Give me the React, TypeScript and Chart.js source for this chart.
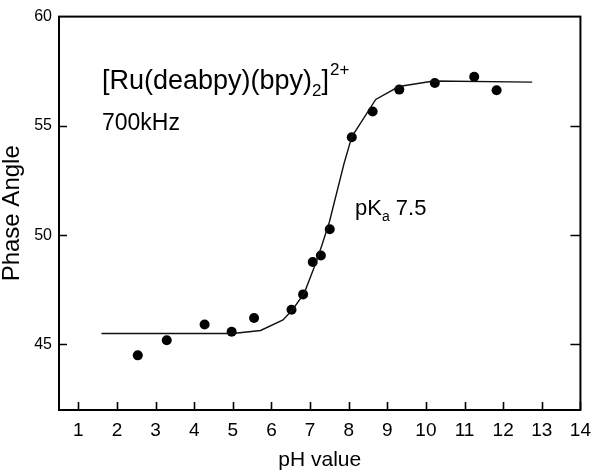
import React, { useEffect, useRef } from "react";
import { Chart, registerables } from "chart.js";

Chart.register(...registerables);

// Measured points (pH, phase angle)
const phValues = [2.54, 3.29, 4.27, 4.97, 5.55, 6.52, 6.82, 7.07, 7.28, 7.51, 8.08, 8.62, 9.31, 10.23, 11.25, 11.83];
const phaseAngles = [44.5, 45.19, 45.91, 45.58, 46.21, 46.59, 47.29, 48.77, 49.07, 50.27, 54.48, 55.66, 56.66, 56.96, 57.25, 56.63];

// Fitted curve
const fitPH = [1.6, 5.0, 5.72, 6.3, 6.55, 6.85, 7.1, 7.3, 7.5, 7.88, 8.08, 8.7, 9.3, 10.2, 12.75];
const fitAngle = [45.5, 45.5, 45.64, 46.12, 46.6, 47.35, 48.5, 49.5, 50.6, 53.28, 54.5, 56.21, 56.8, 57.05, 57.0];

const xTickValues = [1, 2, 3, 4, 5, 6, 7, 8, 9, 10, 11, 12, 13, 14];
const yTickValues = [45, 50, 55, 60];
const xMin = 0.5;
const xMax = 14;
const yMin = 42;
const yMax = 60;

const FONT = "'Liberation Sans', Arial, Helvetica, sans-serif";

const framePlugin = {
  id: "frameAndNotes",
  afterDraw(chart: any) {
    const { ctx, chartArea: a, scales } = chart;
    ctx.save();
    ctx.strokeStyle = "#000";
    ctx.lineWidth = 2;
    ctx.strokeRect(a.left, a.top, a.right - a.left, a.bottom - a.top);
    ctx.lineWidth = 1.6;
    ctx.beginPath();
    xTickValues.forEach((v) => {
      const px = Math.round(scales.x.getPixelForValue(v)) + 0.5;
      ctx.moveTo(px, a.bottom);
      ctx.lineTo(px, a.bottom - 8);
    });
    yTickValues.forEach((v) => {
      if (v >= yMax) return;
      const py = Math.round(scales.y.getPixelForValue(v)) + 0.5;
      ctx.moveTo(a.left, py);
      ctx.lineTo(a.left + 8, py);
      ctx.moveTo(a.right, py);
      ctx.lineTo(a.right - 10, py);
    });
    ctx.stroke();

    // Annotations
    ctx.fillStyle = "#000";
    ctx.textBaseline = "alphabetic";
    ctx.textAlign = "left";
    let x = a.left + 43;
    const by = a.top + 72;
    ctx.font = `27px ${FONT}`;
    const main = "[Ru(deabpy)(bpy)";
    ctx.fillText(main, x, by);
    x += ctx.measureText(main).width;
    ctx.font = `17px ${FONT}`;
    ctx.fillText("2", x, by + 7);
    x += ctx.measureText("2").width;
    ctx.font = `27px ${FONT}`;
    ctx.fillText("]", x, by);
    x += ctx.measureText("]").width;
    ctx.font = `17px ${FONT}`;
    ctx.fillText("2+", x + 1, by - 14);

    ctx.font = `23px ${FONT}`;
    ctx.fillText("700kHz", a.left + 43, a.top + 113);

    let px2 = a.left + 296;
    const pby = a.top + 198;
    ctx.font = `22px ${FONT}`;
    ctx.fillText("pK", px2, pby);
    px2 += ctx.measureText("pK").width;
    ctx.font = `14px ${FONT}`;
    ctx.fillText("a", px2, pby + 6);
    px2 += ctx.measureText("a").width;
    ctx.font = `22px ${FONT}`;
    ctx.fillText(" 7.5", px2, pby);
    ctx.restore();
  },
};

export default function App() {
  const canvasRef = useRef<HTMLCanvasElement | null>(null);

  useEffect(() => {
    const canvas = canvasRef.current;
    if (!canvas) return;
    const chart = new Chart(canvas, {
      type: "scatter",
      data: {
        datasets: [
          {
            label: "fit",
            data: fitPH.map((p, i) => ({ x: p, y: fitAngle[i] })),
            showLine: true,
            borderColor: "#111",
            borderWidth: 1.4,
            pointRadius: 0,
            fill: false,
            tension: 0,
          },
          {
            label: "data",
            data: phValues.map((p, i) => ({ x: p, y: phaseAngles[i] })),
            showLine: false,
            backgroundColor: "#000",
            borderColor: "#000",
            pointRadius: 5,
            pointBorderWidth: 0,
          },
        ],
      },
      options: {
        responsive: false,
        animation: false,
        events: [],
        layout: { padding: { top: 11, right: 13, left: 0, bottom: 0 } },
        plugins: {
          legend: { display: false },
          tooltip: { enabled: false },
          title: { display: false },
        },
        scales: {
          x: {
            type: "linear",
            min: xMin,
            max: xMax,
            grid: { display: false, drawTicks: false },
            border: { display: false },
            afterBuildTicks: (s: any) => {
              s.ticks = xTickValues.map((v) => ({ value: v }));
            },
            afterFit: (s: any) => {
              s.height = 66;
            },
            ticks: {
              autoSkip: false,
              maxRotation: 0,
              padding: 9,
              color: "#000",
              font: { family: FONT, size: 19 },
            },
            title: {
              display: true,
              text: "pH value",
              color: "#000",
              font: { family: FONT, size: 21 },
              padding: { top: 0, bottom: 3 },
            },
          },
          y: {
            type: "linear",
            min: yMin,
            max: yMax,
            grid: { display: false, drawTicks: false },
            border: { display: false },
            afterBuildTicks: (s: any) => {
              s.ticks = yTickValues.map((v) => ({ value: v }));
            },
            afterFit: (s: any) => {
              s.width = 59;
            },
            ticks: {
              autoSkip: false,
              padding: 7,
              color: "#000",
              font: { family: FONT, size: 16 },
            },
            title: {
              display: true,
              text: "Phase Angle",
              color: "#000",
              font: { family: FONT, size: 24 },
              padding: { top: -2, bottom: 0 },
            },
          },
        },
      },
      plugins: [framePlugin],
    });
    return () => chart.destroy();
  }, []);

  return (
    <div style={{ position: "absolute", left: 0, top: 0, width: 600, height: 476, background: "#fff" }}>
      <canvas ref={canvasRef} width={600} height={476} style={{ display: "block" }} />
    </div>
  );
}
